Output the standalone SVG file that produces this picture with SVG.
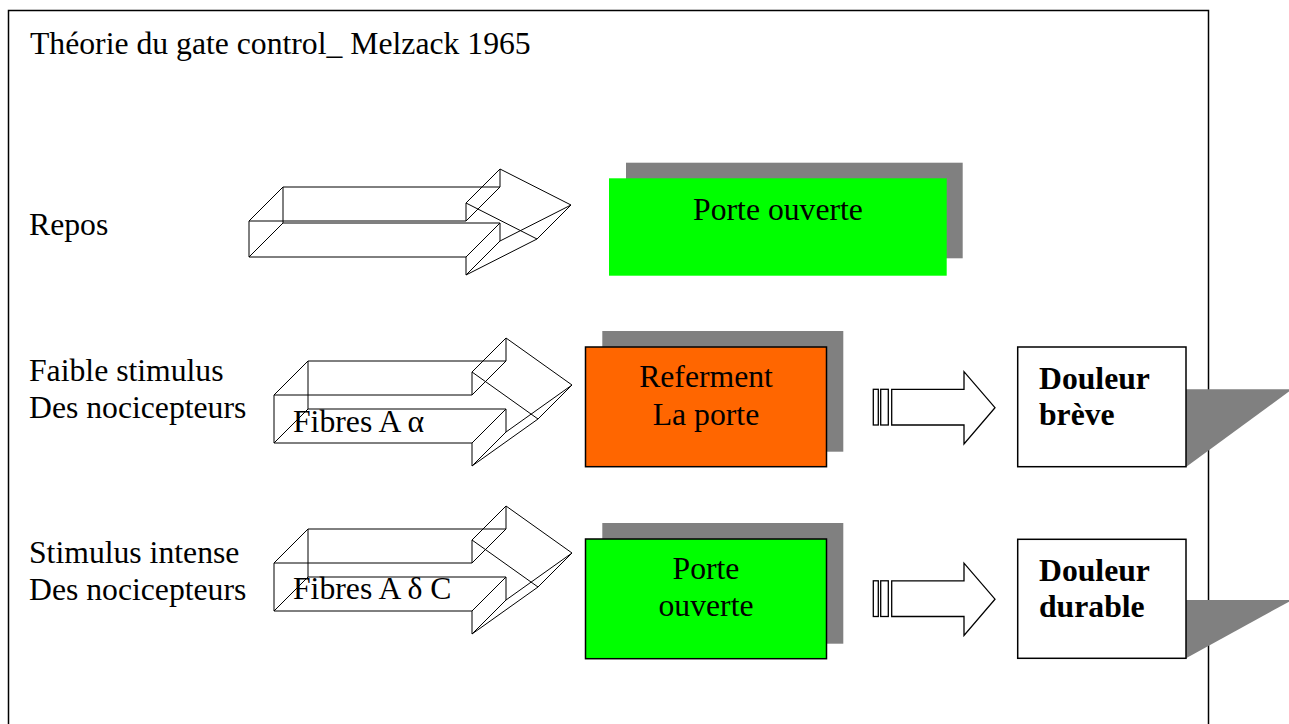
<svg xmlns="http://www.w3.org/2000/svg" width="1289" height="724" viewBox="0 0 1289 724">
  <defs>
    <style>
      text { font-family: "Liberation Serif", "Times New Roman", serif; font-size: 31.7px; fill: #000; }
      .bold { font-weight: bold; }
      .mid { text-anchor: middle; }
      .wire { fill: none; stroke: #000; stroke-width: 1; }
      .shadow { fill: #808080; stroke: none; }
      .box { stroke: #000; stroke-width: 1.5; }
      .hollow { fill: #fff; stroke: #000; stroke-width: 1.3; stroke-linejoin: miter; }
      .frame { fill: none; stroke: #000; stroke-width: 1.5; }
    </style>
    <!-- wireframe extruded arrow used for the two fibre rows -->
    <g id="arrow3d-fibre" class="wire">
      <polygon points="274,395 472,395 472,372 538,419 472,466 472,443 274,443"/>
      <polygon points="308,361 506,361 506,338 572,385 506,432 506,409 308,409"/>
      <path d="M274,395 L308,361 M472,395 L506,361 M472,372 L506,338 M538,419 L572,385 M472,466 L506,432 M472,443 L506,409 M274,443 L308,409"/>
    </g>
    <!-- hollow block arrow with two tail bars -->
    <g id="striped-arrow">
      <rect class="hollow" x="873.3" y="389.3" width="5" height="35.7"/>
      <rect class="hollow" x="880.7" y="389.3" width="7.6" height="35.7"/>
      <polygon class="hollow" points="891.7,389.3 964,389.3 964,371.7 995,407.7 964,444 964,425 891.7,425"/>
    </g>
  </defs>

  <rect width="1289" height="724" fill="#fff"/>

  <!-- outer frame -->
  <rect id="frame" class="frame" x="8.5" y="10.5" width="1200" height="800"/>

  <!-- row labels -->
  <g id="title"><text x="30" y="54">Théorie du gate control_ Melzack 1965</text></g>
  <g id="label-repos"><text x="29" y="235">Repos</text></g>
  <g id="label-faible">
    <text x="29" y="381">Faible stimulus</text>
    <text x="29" y="418">Des nocicepteurs</text>
  </g>
  <g id="label-intense">
    <text x="29" y="563">Stimulus intense</text>
    <text x="29" y="600">Des nocicepteurs</text>
  </g>

  <g id="connectors">
    <!-- rest row: extruded arrow -->
    <g id="arrow-repos" class="wire">
      <polygon points="249,221 466,221 466,203 537,239 466,275 466,257 249,257"/>
      <polygon points="283,187 500,187 500,169 571,205 500,241 500,223 283,223"/>
      <path d="M249,221 L283,187 M466,221 L500,187 M466,203 L500,169 M537,239 L571,205 M466,275 L500,241 M466,257 L500,223 M249,257 L283,223"/>
    </g>
    <!-- fibre rows -->
    <g id="arrow-alpha">
      <use href="#arrow3d-fibre"/>
      <text x="293" y="432">Fibres A α</text>
    </g>
    <g id="arrow-delta">
      <use href="#arrow3d-fibre" transform="translate(0,168)"/>
      <text x="293" y="599">Fibres A δ C</text>
    </g>
    <!-- outcome arrows -->
    <use id="arrow-breve" href="#striped-arrow"/>
    <use id="arrow-durable" href="#striped-arrow" transform="translate(0,191.5)"/>
  </g>

  <!-- gate state boxes -->
  <g id="porte-repos">
    <rect class="shadow" x="626" y="162.7" width="336.7" height="95.6"/>
    <rect x="609" y="178.3" width="337.7" height="97.4" fill="#00ff00"/>
    <text class="mid" x="778" y="220">Porte ouverte</text>
  </g>

  <g id="porte-referme">
    <rect class="shadow" x="602.3" y="331" width="241" height="120.7"/>
    <rect class="box" x="585.5" y="347" width="241" height="119.7" fill="#ff6600"/>
    <text class="mid" x="706" y="387">Referment</text>
    <text class="mid" x="706" y="425">La porte</text>
  </g>

  <g id="porte-ouverte">
    <rect class="shadow" x="602.3" y="523" width="241" height="120.7"/>
    <rect class="box" x="585.5" y="539" width="241" height="119.7" fill="#00ff00"/>
    <text class="mid" x="706" y="579">Porte</text>
    <text class="mid" x="706" y="616">ouverte</text>
  </g>

  <!-- pain outcome boxes -->
  <g id="douleur-breve">
    <polygon class="shadow" points="1186,389.3 1292,389.3 1186,467"/>
    <rect class="box" x="1017.7" y="347" width="168.3" height="119.7" fill="#fff"/>
    <text class="bold" x="1039" y="389">Douleur</text>
    <text class="bold" x="1039" y="425">brève</text>
  </g>

  <g id="douleur-durable">
    <polygon class="shadow" points="1186,600 1292,600 1186,658.3"/>
    <rect class="box" x="1017.7" y="539.3" width="168.3" height="119" fill="#fff"/>
    <text class="bold" x="1039" y="581">Douleur</text>
    <text class="bold" x="1039" y="617">durable</text>
  </g>
</svg>
